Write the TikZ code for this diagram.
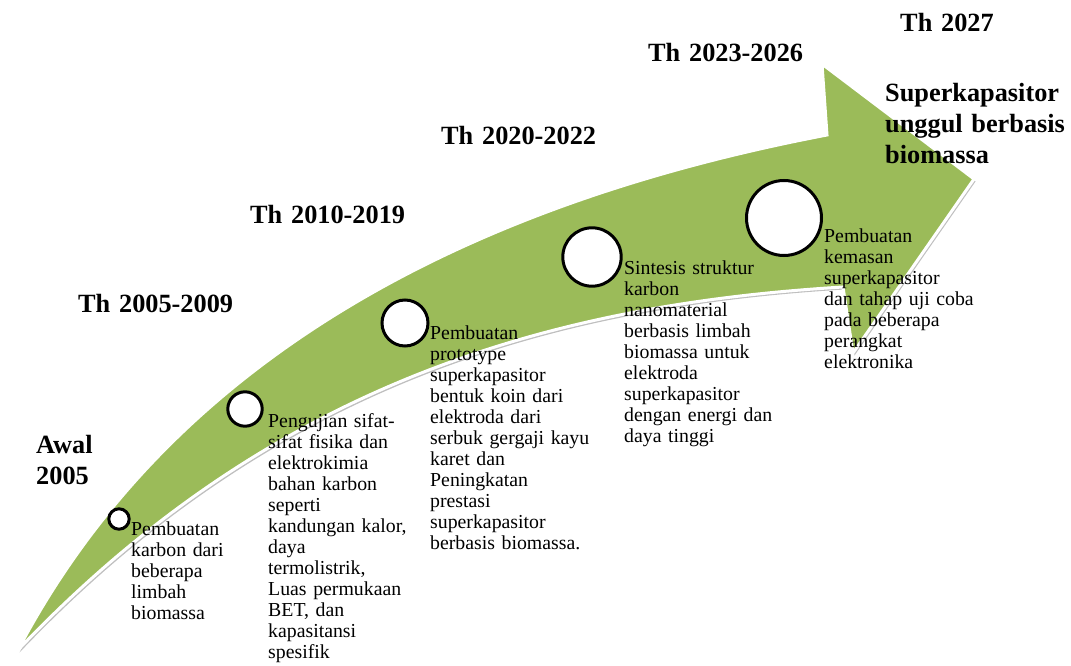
\documentclass[tikz,border=0pt]{standalone}
\usepackage{fontspec}
\setmainfont{Liberation Serif}
\definecolor{arrowgreen}{HTML}{9BBB59}
\newcommand\arrowshape{(18,650) .. controls (178,346) and (487,200) .. (827,135) -- (822,64) -- (974,179) -- (853,353) -- (843,287) .. controls (543,305) and (268,387.5) .. (18,650) -- cycle}
\begin{document}
\begin{tikzpicture}[x=1pt,y=-1pt,
  body/.style={anchor=base west, inner sep=0pt, text width=190pt, align=left, font=\fontsize{19.8}{21}\selectfont},
  head/.style={anchor=base west, inner sep=0pt, text width=220pt, align=left, font=\fontsize{26.3}{31}\selectfont\bfseries},
  dot/.style={circle, draw=black, line width=3pt, fill=white, inner sep=0pt}]
\useasboundingbox (0,0) rectangle (1071,666);
% arrow with shadow and white outline
\fill[black!25, shift={(1.5,2.5)}] \arrowshape;
\filldraw[fill=arrowgreen, draw=white, line width=3pt, line join=miter] \arrowshape;
% circles
\node[dot, minimum size=20.4pt] (c1) at (119,519) {};
\node[dot, minimum size=34.4pt] (c2) at (245,409) {};
\node[dot, minimum size=46pt] (c3) at (405,323) {};
\node[dot, minimum size=58.4pt] (c4) at (592,257) {};
\node[dot, minimum size=75pt] (c5) at (784,218) {};
% headings
\node[head] (h0) at (36,453) {Awal\\2005};
\node[head] (h1) at (78,312) {Th 2005-2009};
\node[head] (h2) at (250,223) {Th 2010-2019};
\node[head] (h3) at (441,145) {Th 2020-2022};
\node[head] (h4) at (648,62) {Th 2023-2026};
\node[head] (h5) at (900,32) {Th 2027};
\node[head] (h6) at (885,102) {Superkapasitor\\unggul berbasis\\biomassa};
% body texts
\node[body] (t1) at (131,535) {Pembuatan\\karbon dari\\beberapa\\limbah\\biomassa};
\node[body] (t2) at (268,427) {Pengujian sifat-\\sifat fisika dan\\elektrokimia\\bahan karbon\\seperti\\kandungan kalor,\\daya\\termolistrik,\\Luas permukaan\\BET, dan\\kapasitansi\\spesifik};
\node[body] (t3) at (430,339) {Pembuatan\\prototype\\superkapasitor\\bentuk koin dari\\elektroda dari\\serbuk gergaji kayu\\karet dan\\Peningkatan\\prestasi\\superkapasitor\\berbasis biomassa.};
\node[body] (t4) at (624,274) {Sintesis struktur\\karbon\\nanomaterial\\berbasis limbah\\biomassa untuk\\elektroda\\superkapasitor\\dengan energi dan\\daya tinggi};
\node[body] (t5) at (824,242) {Pembuatan\\kemasan\\superkapasitor\\dan tahap uji coba\\pada beberapa\\perangkat\\elektronika};
\end{tikzpicture}
\end{document}
